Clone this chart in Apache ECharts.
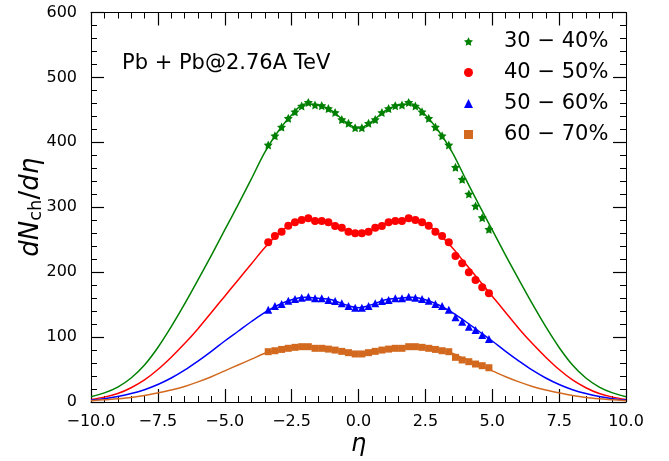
<!DOCTYPE html>
<html>
<head>
<meta charset="utf-8">
<script src="https://cdn.jsdelivr.net/npm/echarts@6/dist/echarts.min.js"></script>
<style>
  html, body { margin: 0; padding: 0; background: #fff; }
  #chart { width: 669px; height: 461px; }
</style>
</head>
<body>
<div id="chart"></div>
<script>
// Pseudorapidity bins of the measured charged-particle yields
const etaData = [-3.375, -3.125, -2.875, -2.625, -2.375, -2.125, -1.875, -1.625, -1.375, -1.125,
  -0.875, -0.625, -0.375, -0.125, 0.125, 0.375, 0.625, 0.875, 1.125, 1.375,
  1.625, 1.875, 2.125, 2.375, 2.625, 2.875, 3.125, 3.375, 3.625, 3.875,
  4.125, 4.375, 4.625, 4.875];

// Measured dN/deta per centrality class
const data30_40 = [396, 410, 423.5, 437, 447, 456, 461.5, 457.5, 456.5, 452,
  446, 435, 429.3, 422.5, 422.5, 429.3, 435, 446, 452, 456.5,
  457.5, 461.5, 456, 447, 437, 423.5, 410, 396, 361.5, 343,
  320.5, 302, 284, 266];
const data40_50 = [246, 255.7, 262.3, 271.5, 276.8, 280.3, 282.9, 279, 279, 277,
  271.3, 268.5, 262.3, 259.8, 259.8, 262.3, 268.5, 271.3, 277, 279,
  279, 282.9, 280.3, 276.8, 271.5, 262.3, 255.7, 246, 225, 213.6,
  199.8, 188, 176.6, 167.4];
const data50_60 = [142, 148, 151, 156, 158.7, 160.7, 162.2, 159.7, 159.7, 157.1,
  155.6, 152, 147.9, 145.3, 145.3, 147.9, 152, 155.6, 157.1, 159.7,
  159.7, 162.2, 160.7, 158.7, 156, 151, 148, 142, 130.4, 123.7,
  116, 110.9, 103.2, 97];
const data60_70 = [77.5, 79, 81, 82.7, 84.2, 85.2, 85.2, 82.7, 82.7, 81.5,
  80, 78, 76, 74, 74, 76, 78, 80, 81.5, 82.7,
  82.7, 85.2, 85.2, 84.2, 82.7, 81, 79, 77.5, 68.8, 64.7,
  62.1, 58.5, 55.9, 52.8];

// Model curves sampled over the full eta range
const etaModel = [-10, -9.5, -9, -8.5, -8, -7.5, -7, -6.5, -6, -5.5, -5, -4.5, -4, -3.5, -3, -2.5, -2, -1.5, -1, -0.5,
  0, 0.5, 1, 1.5, 2, 2.5, 3, 3.5, 4, 4.5, 5, 5.5, 6, 6.5, 7, 7.5, 8, 8.5, 9, 9.5, 10];
const model30_40 = [8, 14, 23, 37, 57, 84, 116, 151, 188, 226, 265, 304, 344, 385, 417, 442, 459, 457, 449, 432,
  422, 432, 449, 457, 459, 442, 417, 385, 344, 304, 265, 226, 188, 151, 116, 84, 57, 37, 23, 14, 8];
const model40_50 = [4, 7.5, 13, 22, 34, 50, 69, 90, 113, 138, 163, 188, 213, 238, 259, 274, 281, 279, 275, 265,
  259.5, 265, 275, 279, 281, 274, 259, 238, 213, 188, 163, 138, 113, 90, 69, 50, 34, 22, 13, 7.5, 4];
const model50_60 = [3, 5, 8.5, 13, 19, 27, 37, 49, 63, 78, 94, 109, 124, 138, 149.5, 157.5, 161.5, 160, 157.5, 150,
  145.3, 150, 157.5, 160, 161.5, 157.5, 149.5, 138, 124, 109, 94, 78, 63, 49, 37, 27, 19, 13, 8.5, 5, 3];
const model60_70 = [2, 3.5, 5, 7, 10, 14, 18.5, 24, 31, 39, 48, 57, 66, 75, 80, 83.5, 85, 83, 80, 76.5,
  74, 76.5, 80, 83, 85, 83.5, 80, 75, 66, 57, 48, 39, 31, 24, 18.5, 14, 10, 7, 5, 3.5, 2];

const classNames = ['30 − 40%', '40 − 50%', '50 − 60%', '60 − 70%'];
const xTicks = [-10, -7.5, -5, -2.5, 0, 2.5, 5, 7.5, 10];
const yTicks = [0, 100, 200, 300, 400, 500, 600];
const systemLabel = 'Pb + Pb@2.76A TeV';

const FONT = 'DejaVu Sans';
const STAR = 'path://M0,-10L2.94,-4.05L9.51,-3.09L4.76,1.55L5.88,8.09L0,5.2L-5.88,8.09L-4.76,1.55L-9.51,-3.09L-2.94,-4.05Z';
const styles = [
  { color: '#008000', symbol: STAR, size: 9 },
  { color: '#ff0000', symbol: 'circle', size: 8 },
  { color: '#0000ff', symbol: 'triangle', size: 8 },
  { color: '#d2691e', symbol: 'rect', size: 7 }
];
const measured = [data30_40, data40_50, data50_60, data60_70];
const model = [model30_40, model40_50, model50_60, model60_70];

const fmtX = v => {
  const t = xTicks.find(x => Math.abs(x - v) < 1e-9);
  if (t === undefined) return '';
  return (t < 0 ? '\u2212' : '') + Math.abs(t).toFixed(1);
};
const fmtY = v => (yTicks.indexOf(v) >= 0 ? String(v) : '');

function axisBase(showLabel, fmt, margin) {
  return {
    axisLine: { show: true, onZero: false, lineStyle: { color: '#000', width: 1 } },
    axisTick: { show: true, inside: true, length: 13, lineStyle: { color: '#000', width: 1.2 } },
    minorTick: { show: true, splitNumber: 5, length: 6, lineStyle: { color: '#000', width: 1 } },
    splitLine: { show: false },
    minorSplitLine: { show: false },
    nameMoveOverlap: false,
    axisLabel: {
      show: showLabel, formatter: fmt, margin: margin,
      fontFamily: FONT, fontSize: 16, color: '#000'
    }
  };
}

const xCommon = { type: 'value', min: xTicks[0], max: xTicks[xTicks.length - 1], interval: 2.5 };
const yCommon = { type: 'value', min: yTicks[0], max: yTicks[yTicks.length - 1], interval: 100 };

const series = [];
model.forEach((vals, i) => {
  series.push({
    type: 'line', name: 'model ' + classNames[i], xAxisIndex: 0, yAxisIndex: 0,
    data: etaModel.map((x, j) => [x, vals[j]]),
    showSymbol: false, smooth: 0.35, silent: true, z: 2,
    lineStyle: { color: styles[i].color, width: 1.5 }
  });
});
measured.forEach((vals, i) => {
  series.push({
    type: 'scatter', name: classNames[i], xAxisIndex: 0, yAxisIndex: 0,
    data: etaData.map((x, j) => [x, vals[j]]),
    symbol: styles[i].symbol, symbolSize: styles[i].size, z: 3,
    itemStyle: { color: styles[i].color, opacity: 1 }
  });
});

const chart = echarts.init(document.getElementById('chart'), null, { renderer: 'canvas' });
chart.setOption({
  animation: false,
  backgroundColor: '#fff',
  grid: { left: 91, right: 43, top: 12.5, bottom: 59, containLabel: false, outerBoundsMode: 'none' },
  title: {
    text: systemLabel, left: 122, top: 53, padding: 0,
    textStyle: { fontFamily: FONT, fontSize: 21, fontWeight: 'normal', color: '#000' }
  },
  legend: {
    orient: 'vertical', left: 459, top: 26, itemGap: 10,
    itemWidth: 9, itemHeight: 9,
    data: classNames.map((n, i) => ({ name: n, icon: styles[i].symbol })),
    textStyle: { fontFamily: FONT, fontSize: 21, color: '#000', lineHeight: 21, padding: [0, 0, 0, 26] }
  },
  xAxis: [
    Object.assign({}, xCommon, axisBase(true, fmtX, 12), {
      position: 'bottom', name: 'η', nameLocation: 'middle', nameGap: 31,
      nameTextStyle: { fontFamily: FONT, fontSize: 24, fontStyle: 'italic', color: '#000' }
    }),
    Object.assign({}, xCommon, axisBase(false, fmtX, 12), { position: 'top' })
  ],
  yAxis: [
    Object.assign({}, yCommon, axisBase(true, fmtY, 14), {
      position: 'left', name: '{i|dN}{s|ch}{n|/}{i|dη}', nameLocation: 'middle', nameGap: 46, nameRotate: 90,
      nameTextStyle: {
        fontFamily: FONT, fontSize: 26, color: '#000',
        rich: {
          i: { fontFamily: FONT, fontSize: 26, fontStyle: 'italic', color: '#000' },
          n: { fontFamily: FONT, fontSize: 26, color: '#000' },
          s: { fontFamily: FONT, fontSize: 18, color: '#000', padding: [10, 0, 0, 0] }
        }
      }
    }),
    Object.assign({}, yCommon, axisBase(false, fmtY, 14), { position: 'right' })
  ],
  series: series
});
</script>
</body>
</html>
